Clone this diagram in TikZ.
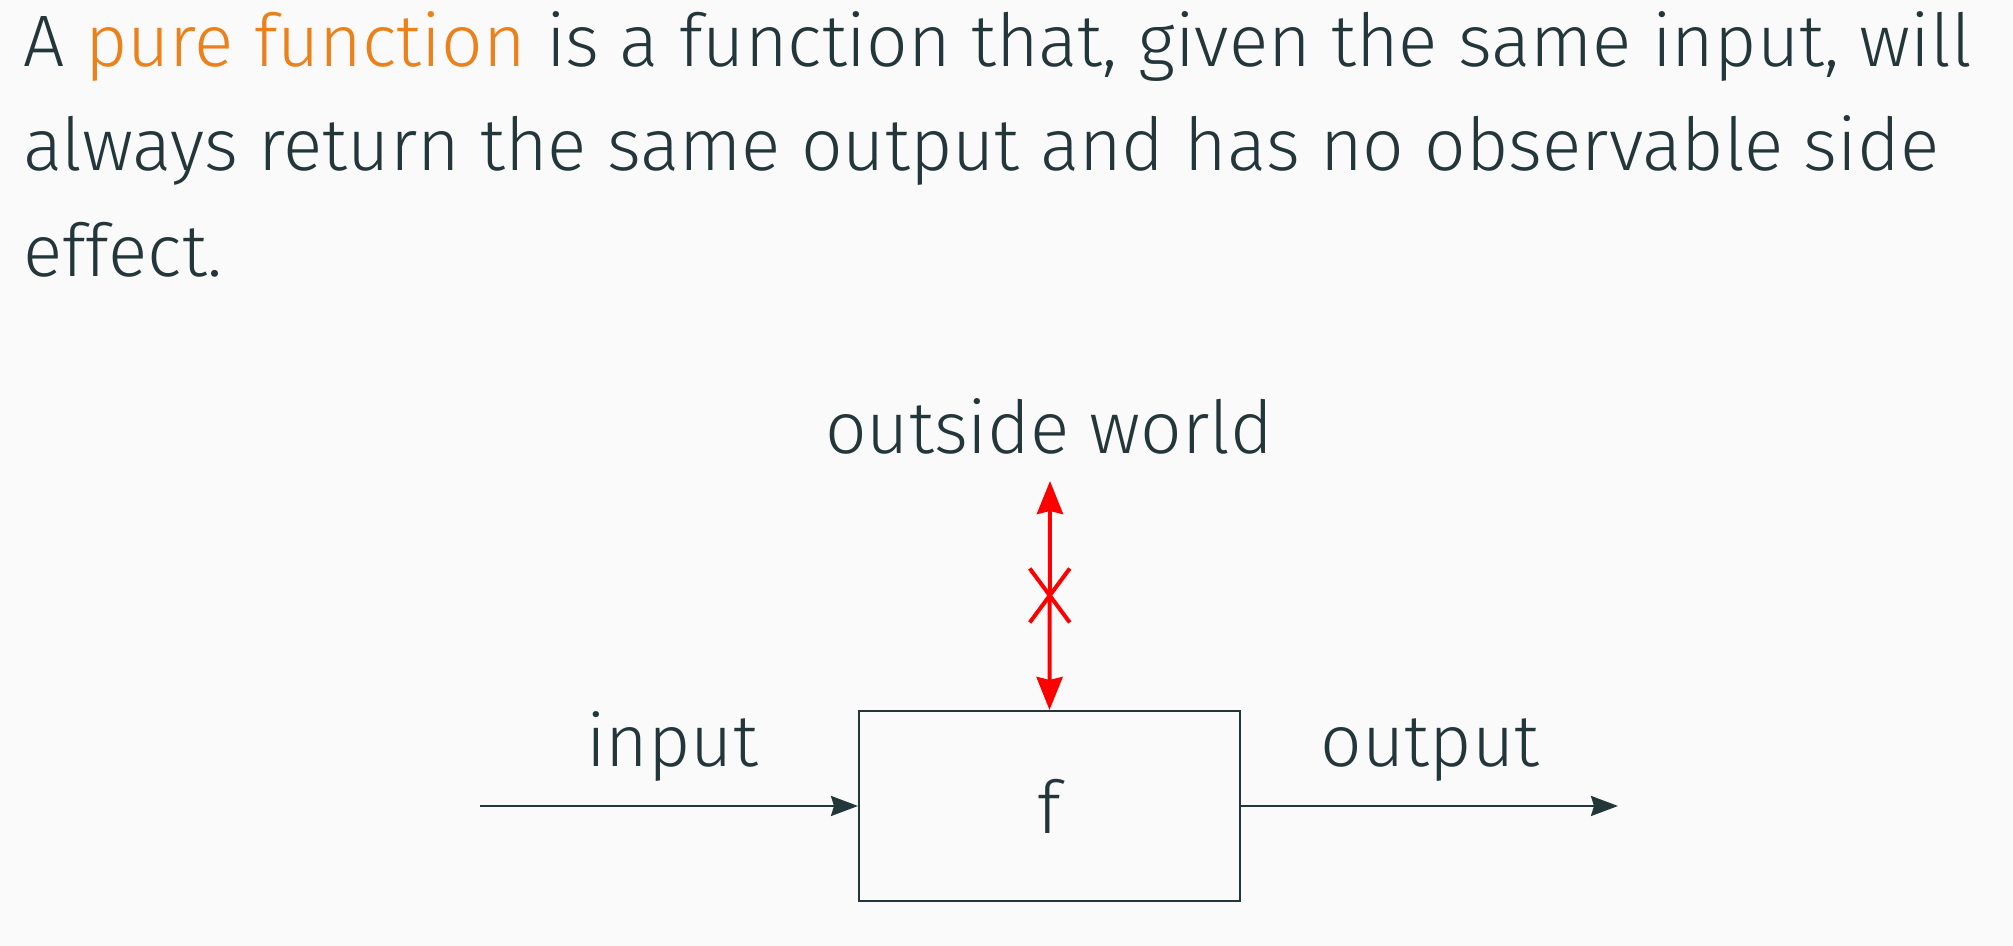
\documentclass[tikz,border=0pt]{standalone}
\usepackage{fontspec}
\IfFontExistsTF{Fira Sans Light}{\setmainfont{Fira Sans Light}}{\setmainfont{Fira Sans}}
\usepackage{xcolor}
\usetikzlibrary{positioning, arrows.meta, shapes.misc}
\definecolor{mDarkTeal}{HTML}{23373B}
\definecolor{mOrange}{HTML}{EB811B}
\definecolor{mBack}{HTML}{FAFAFA}
\newcommand{\hilite}[1]{\textcolor{mOrange}{#1}}

\begin{document}
\begin{tikzpicture}[x=0.5pt, y=0.5pt,
    every node/.style={text=mDarkTeal, font=\fontsize{36.5}{52.5}\selectfont},
    textline/.style={anchor=base west, inner sep=0pt},
    label/.style={anchor=base, inner sep=0pt},
    fbox/.style={draw=mDarkTeal, line width=1pt, minimum width=190.5pt, minimum height=95pt, inner sep=0pt},
    flow/.style={draw=mDarkTeal, line width=1.25pt, -{Stealth[length=13.5pt, width=10pt, inset=1.5pt]}},
    sidefx/.style={draw=red, line width=2pt, {Stealth[length=16.5pt, width=13pt, inset=1.5pt]}-{Stealth[length=16.5pt, width=13pt, inset=1.5pt]}},
    blocked/.style={cross out, draw=red, line width=2pt, minimum width=18pt, minimum height=25pt, inner sep=0pt}]
    \useasboundingbox[fill=mBack] (0,0) rectangle (2013,946);

    % definition
    \node[textline] (l1) at (23,879) {A \hilite{pure function} is a function that, given the same input, will};
    \node[textline] (l2) at (23,775) {always return the same output and has no observable side};
    \node[textline] (l3) at (23,669) {effect.};

    % the function
    \node[fbox] (f) at (1049.5,140) {f};
    \coordinate (in) at (480,140);
    \coordinate (out) at (1618,140);
    \coordinate (world) at (1050,465);
    \node[label] (inlbl) at (672,179) {input};
    \node[label] (outlbl) at (1430,179) {output};
    \node[label] (worldlbl) at (1049,492) {outside world};

    \draw[flow] (in) -- (f);
    \draw[flow] (f) -- (out);
    \draw[sidefx] (f.north) -- node[blocked] (nofx) {} (world);
\end{tikzpicture}
\end{document}
